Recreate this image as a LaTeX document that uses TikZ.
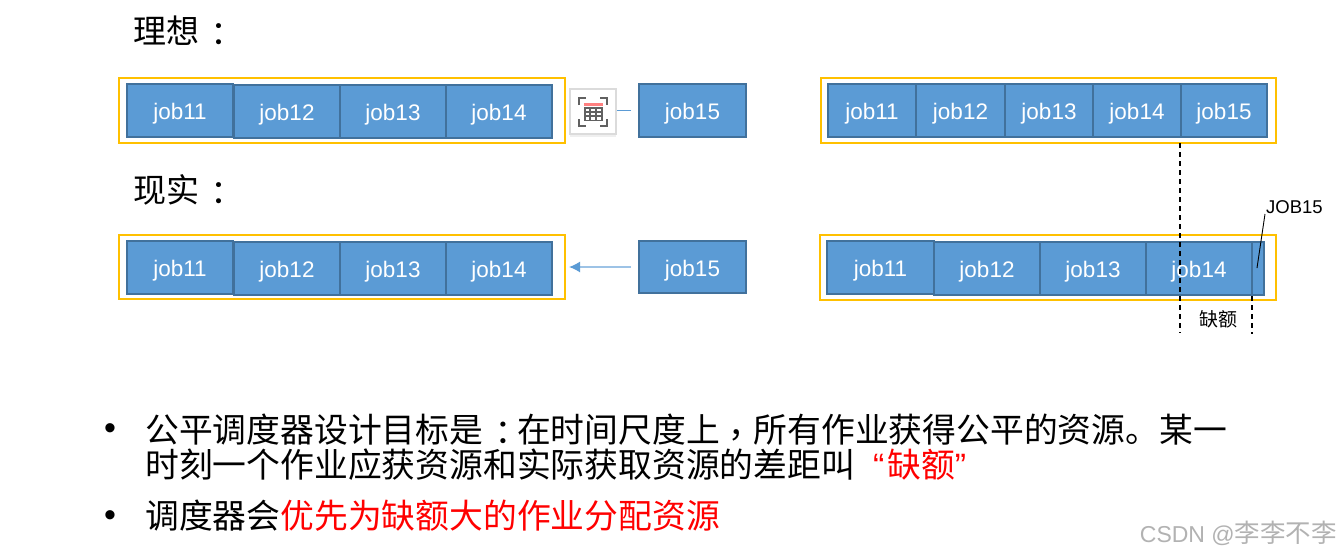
\documentclass[tikz,border=0pt]{standalone}
\usepackage{fontspec}
\setmainfont{Liberation Sans}
\newfontfamily\cjk{Noto Sans CJK SC}
\newfontfamily\cjktc{Noto Sans CJK TC}
\usetikzlibrary{arrows.meta,shadows}
\definecolor{jobfill}{HTML}{5B9BD5}
\definecolor{jobline}{HTML}{41719C}
\definecolor{frameyel}{HTML}{FFC000}
\newcommand{\myjob}[6]{\node[jobbox,minimum width=#4-#3,minimum height=#6-#5] (#1) at ({(#3+#4)/2},{(#5+#6)/2}) {#2};}
\newcommand{\myframe}[5]{\node[framebox,minimum width=#3-#2,minimum height=#5-#4] (#1) at ({(#2+#3)/2},{(#4+#5)/2}) {};}
\newcommand{\lowcolon}{{\cjktc\hspace{3pt}\smash{\raisebox{-3pt}{：}}\hspace{-3pt}}}
\newcommand{\lowcomma}{{\cjktc\smash{\raisebox{-5pt}{，}}}}
\tikzset{
  jobbox/.style={draw=jobline,line width=1.3pt,fill=jobfill,inner sep=0pt,outer sep=0pt,text=white,text height=18pt,text depth=0pt,font=\fontsize{22.5}{24}\selectfont},
  framebox/.style={draw=frameyel,line width=2pt,inner sep=0pt,outer sep=0pt},
  heading/.style={anchor=west,inner sep=0pt,font=\cjk\fontsize{33}{36}\selectfont},
  bullettext/.style={anchor=west,inner sep=0pt,align=left,font=\cjk\fontsize{33.8}{35}\selectfont},
  bulletdot/.style={inner sep=0pt,font=\fontsize{34}{36}\selectfont},
  flowline/.style={draw=jobfill,line width=1pt},
  dashline/.style={draw=black,line width=1.1pt,dash pattern=on 5pt off 4pt},
  iconline/.style={draw=black!62,line width=2pt},
}
\begin{document}
\begin{tikzpicture}[x=1pt,y=-1pt]
\useasboundingbox (0,0) rectangle (1341,557);
\fill[white] (0,0) rectangle (1341,557);

\node[heading] (t1) at (133,31) {理想\lowcolon};
\node[heading] (t2) at (133,190) {现实\lowcolon};

% row 1 left
\myframe{f1}{119}{565}{78}{143}
\myjob{a1}{job11}{127}{233}{84}{137}
\myjob{a2}{job12}{234}{340}{85}{138}
\myjob{a3}{job13}{340}{446}{85}{138}
\myjob{a4}{job14}{446}{552}{85}{138}
\myjob{a5}{job15}{639}{746}{84}{137}

% row 1 right
\myframe{f2}{821}{1276}{78}{143}
\myjob{b1}{job11}{828}{916}{84}{137}
\myjob{b2}{job12}{916}{1005}{84}{137}
\myjob{b3}{job13}{1005}{1093}{84}{137}
\myjob{b4}{job14}{1093}{1181}{84}{137}
\myjob{b5}{job15}{1181}{1267}{84}{137}

% row 2 left
\myframe{f3}{119}{565}{235}{299}
\myjob{c1}{job11}{127}{233}{241}{294}
\myjob{c2}{job12}{234}{340}{242}{295}
\myjob{c3}{job13}{340}{446}{242}{295}
\myjob{c4}{job14}{446}{552}{242}{295}
\myjob{c5}{job15}{639}{746}{241}{293}

% row 2 right
\myframe{f4}{820}{1276}{235}{300}
\myjob{d1}{job11}{827}{934}{241}{294}
\myjob{d2}{job12}{934}{1040}{242}{295}
\myjob{d3}{job13}{1040}{1146}{242}{295}
\myjob{d4}{job14}{1146}{1252}{242}{295}
\myjob{d5}{}{1252}{1264}{242}{295}

% icon
\node[draw=black!14,line width=2pt,fill=white,minimum width=46pt,minimum height=45pt,inner sep=0pt,
      drop shadow={shadow xshift=0pt,shadow yshift=-3pt,opacity=.12}] (icon) at (593,111.5) {};
\begin{scope}[shift={(593,112)}]
  \draw[iconline] (-14,-7) -- (-14,-14) -- (-7,-14);
  \draw[iconline] (7,-14) -- (14,-14) -- (14,-7);
  \draw[iconline] (-14,7) -- (-14,14) -- (-7,14);
  \draw[iconline] (7,14) -- (14,14) -- (14,7);
  \fill[red!50!white] (-9.5,-9) rectangle (9.5,-6.5);
  \fill[black!62] (-9.5,-5.5) rectangle (9.5,9);
  \foreach \i in {0,1,2} \foreach \j in {0,1,2}
    \fill[white] ({-7.5+\i*5.6},{-3.5+\j*4.3}) rectangle ({-3.7+\i*5.6},{-0.9+\j*4.3});
\end{scope}

% connectors
\coordinate (r1s) at (631,110);
\coordinate (r2s) at (631,267);
\coordinate (r2e) at (569,267);
\draw[flowline] (r1s) -- (icon.east |- r1s);
\draw[draw=jobfill!60,line width=1.5pt,-{Latex[length=11pt,width=11pt,color=jobfill]}] (r2s) -- (r2e);

% dashed
\coordinate (ds1) at (1180,143);
\coordinate (de1) at (1180,333);
\coordinate (ds2) at (1252,296);
\coordinate (de2) at (1252,334);
\draw[dashline] (ds1) -- (de1);
\draw[dashline] (ds2) -- (de2);

% labels
\node[inner sep=0pt,font=\cjk\fontsize{19}{21}\selectfont] (q) at (1218,319) {缺额};
\node[inner sep=0pt,anchor=west,font=\fontsize{18.5}{20}\selectfont] (j15) at (1266,207) {JOB15};
\coordinate (lead) at (1257,268);
\draw[black,line width=.9pt] (1265,214) -- (lead);

% bullets
\node[bulletdot] (b1dot) at (110,432) {•};
\node[bulletdot] (b2dot) at (110,519) {•};
\node[bullettext] (bt1) at (145,447) {公平调度器设计目标是\lowcolon 在时间尺度上\lowcomma 所有作业获得公平的资源。某一\\时刻一个作业应获资源和实际获取资源的差距叫\hspace{18pt}{\color{red}{\rmfamily “}\hspace{3pt}缺额{\rmfamily ”}}};
\node[bullettext] (bt2) at (145,516) {调度器会{\color{red}优先为缺额大的作业分配资源}};

% watermark
\node[inner sep=0pt,anchor=east,text=black!30,font=\fontsize{23}{25}\selectfont] (wm) at (1337,533) {CSDN @{\cjk\fontsize{25.5}{25}\selectfont 李李不李}};
\end{tikzpicture}
\end{document}
